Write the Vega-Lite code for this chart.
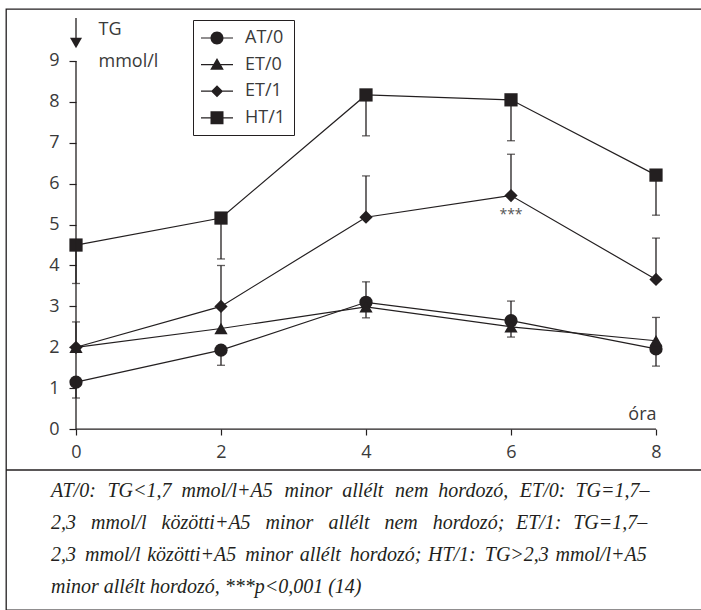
{
  "$schema": "https://vega.github.io/schema/vega-lite/v6.json",
  "width": 700,
  "height": 601,
  "padding": {"left": 5, "top": 9, "right": 0, "bottom": 0},
  "background": "white",
  "config": {
    "view": {"stroke": "#231f20", "strokeWidth": 1.3},
    "axis": {
      "labelFont": "Open Sans", "labelFontSize": 18, "labelColor": "#3a3a3a",
      "titleFont": "Open Sans", "titleFontSize": 18, "titleFontWeight": "normal", "titleColor": "#3a3a3a",
      "tickColor": "#231f20", "tickWidth": 1.2, "grid": false, "domain": false
    }
  },
  "title": {
    "text": [
      "AT/0: \u2004TG<1,7 \u2005mmol/l+A5 \u2004minor \u2005allélt \u2004nem \u2005hordozó, \u2004ET/0: \u2005TG=1,7–",
      "2,3 \u2002mmol/l \u2002közötti+A5 \u2002minor \u2002allélt \u2002nem \u2002hordozó; \u2005\u200aET/1: \u2005\u200aTG=1,7–",
      "2,3 \u2009mmol/l \u200aközötti+A5 \u2009minor \u200aallélt \u2009hordozó; \u200aHT/1: \u2009TG>2,3 \u200ammol/l+A5",
      "minor allélt hordozó, ***p<0,001 (14)"
    ],
    "orient": "bottom", "anchor": "start", "frame": "group", "offset": -129, "dx": 45,
    "baseline": "top", "font": "Liberation Serif", "fontStyle": "italic", "fontWeight": "normal",
    "fontSize": 20, "lineHeight": 32, "color": "#231f20"
  },
  "data": {"values": [
    {"series": "AT/0", "x": 0, "y": 1.15, "err": 0.76},
    {"series": "AT/0", "x": 2, "y": 1.93, "err": 1.56},
    {"series": "AT/0", "x": 4, "y": 3.1, "err": 3.6},
    {"series": "AT/0", "x": 6, "y": 2.65, "err": 3.13},
    {"series": "AT/0", "x": 8, "y": 1.96, "err": 1.54},
    {"series": "ET/0", "x": 0, "y": 2.0, "err": null},
    {"series": "ET/0", "x": 2, "y": 2.46, "err": 2.95},
    {"series": "ET/0", "x": 4, "y": 2.99, "err": 2.72},
    {"series": "ET/0", "x": 6, "y": 2.5, "err": 2.25},
    {"series": "ET/0", "x": 8, "y": 2.16, "err": 2.73},
    {"series": "ET/1", "x": 0, "y": 2.0, "err": 2.62},
    {"series": "ET/1", "x": 2, "y": 3.0, "err": 4.0},
    {"series": "ET/1", "x": 4, "y": 5.18, "err": 6.19},
    {"series": "ET/1", "x": 6, "y": 5.71, "err": 6.72, "sig": "***"},
    {"series": "ET/1", "x": 8, "y": 3.66, "err": 4.67},
    {"series": "HT/1", "x": 0, "y": 4.5, "err": 3.56},
    {"series": "HT/1", "x": 2, "y": 5.16, "err": 4.16},
    {"series": "HT/1", "x": 4, "y": 8.17, "err": 7.17},
    {"series": "HT/1", "x": 6, "y": 8.05, "err": 7.05},
    {"series": "HT/1", "x": 8, "y": 6.21, "err": 5.23}
  ]},
  "layer": [
    {
      "mark": {"type": "line", "color": "#231f20", "strokeWidth": 1.2},
      "encoding": {
        "x": {"field": "x", "type": "quantitative",
          "scale": {"domain": [-0.9655, 8.6897], "nice": false, "zero": false},
          "axis": {"values": [0, 2, 4, 6, 8], "format": "d", "offset": -181, "tickSize": 6, "labelPadding": 8,
            "title": "óra", "titleX": 650, "titleY": -15, "titleAlign": "right", "titleBaseline": "middle"}},
        "y": {"field": "y", "type": "quantitative",
          "scale": {"domain": [-4.423, 10.271], "nice": false, "zero": false},
          "axis": {"values": [0, 1, 2, 3, 4, 5, 6, 7, 8, 9], "format": "d", "offset": -70, "tickSize": 7, "labelPadding": 10,
            "title": ["TG", "mmol/l"], "titleAngle": 0, "titleX": 22, "titleY": 11, "titleAlign": "left",
            "titleBaseline": "top", "titleLineHeight": 32}},
        "detail": {"field": "series"}
      }
    },
    {
      "transform": [{"filter": "datum.err != null"}],
      "mark": {"type": "rule", "color": "#231f20", "strokeWidth": 1.3},
      "encoding": {
        "x": {"field": "x", "type": "quantitative"},
        "y": {"field": "y", "type": "quantitative"},
        "y2": {"field": "err"}
      }
    },
    {
      "transform": [{"filter": "datum.err != null"}],
      "mark": {"type": "tick", "orient": "horizontal", "color": "#231f20", "size": 8, "thickness": 1.3},
      "encoding": {
        "x": {"field": "x", "type": "quantitative"},
        "y": {"field": "err", "type": "quantitative"}
      }
    },
    {
      "mark": {"type": "point", "filled": true, "color": "#231f20", "opacity": 1, "size": 175},
      "encoding": {
        "x": {"field": "x", "type": "quantitative"},
        "y": {"field": "y", "type": "quantitative"},
        "shape": {"field": "series", "type": "nominal", "legend": null,
          "scale": {"domain": ["AT/0", "ET/0", "ET/1", "HT/1"], "range": ["circle", "triangle-up", "diamond", "square"]}}
      }
    },
    {
      "mark": {"type": "point", "filled": true, "color": "#231f20", "opacity": 0},
      "encoding": {
        "x": {"field": "x", "type": "quantitative"},
        "y": {"field": "y", "type": "quantitative"},
        "shape": {"field": "series", "type": "nominal",
          "scale": {"domain": ["AT/0", "ET/0", "ET/1", "HT/1"],
            "range": [
              "M-1.6,-0.06H-0.3V0.06H-1.6ZM0.3,-0.06H1.6V0.06H0.3ZM0.65,0A0.65,0.65,0,1,1,-0.65,0A0.65,0.65,0,1,1,0.65,0Z",
              "M-1.6,-0.06H-0.3V0.06H-1.6ZM0.3,-0.06H1.6V0.06H0.3ZM0,-0.66L0.68,0.52L-0.68,0.52Z",
              "M-1.6,-0.06H-0.3V0.06H-1.6ZM0.3,-0.06H1.6V0.06H0.3ZM0,-0.6L0.6,0L0,0.6L-0.6,0Z",
              "M-1.6,-0.06H-0.3V0.06H-1.6ZM0.3,-0.06H1.6V0.06H0.3ZM-0.65,-0.65H0.65V0.65H-0.65Z"
            ]},
          "legend": {"orient": "none", "legendX": 187, "legendY": 11, "title": null, "padding": 8,
            "strokeColor": "#231f20", "symbolSize": 400, "symbolOffset": 6, "symbolFillColor": "#231f20",
            "symbolStrokeColor": "#231f20", "symbolStrokeWidth": 0, "symbolOpacity": 1,
            "labelFont": "Open Sans", "labelFontSize": 18, "labelColor": "#3a3a3a", "labelOffset": 18,
            "rowPadding": 7.6}}
      }
    },
    {
      "transform": [{"filter": "datum.sig != null"}],
      "mark": {"type": "text", "color": "#555555", "fontSize": 14, "font": "Open Sans", "dy": 19, "baseline": "middle"},
      "encoding": {
        "x": {"field": "x", "type": "quantitative"},
        "y": {"field": "y", "type": "quantitative"},
        "text": {"field": "sig"}
      }
    },
    {
      "data": {"values": [{}]},
      "layer": [
        {"mark": {"type": "rule", "color": "#231f20", "strokeWidth": 1.3},
          "encoding": {"y": {"datum": -1.0, "type": "quantitative"}}},
        {"mark": {"type": "rule", "color": "#231f20", "strokeWidth": 1.3},
          "encoding": {"x": {"datum": 0, "type": "quantitative"}, "y": {"datum": 0, "type": "quantitative"}, "y2": {"datum": 9}}},
        {"mark": {"type": "rule", "color": "#231f20", "strokeWidth": 1.3},
          "encoding": {"y": {"datum": 0, "type": "quantitative"}, "x": {"datum": 0, "type": "quantitative"}, "x2": {"datum": 8}}},
        {"mark": {"type": "rule", "color": "#231f20", "strokeWidth": 1.3},
          "encoding": {"x": {"datum": 0, "type": "quantitative"}, "y": {"datum": 9.51, "type": "quantitative"}, "y2": {"datum": 10.05}}},
        {"mark": {"type": "point", "shape": "triangle-down", "filled": true, "color": "#231f20", "opacity": 1, "size": 144},
          "encoding": {"x": {"datum": 0, "type": "quantitative"}, "y": {"datum": 9.44, "type": "quantitative"}}}
      ]
    }
  ],
  "resolve": {"scale": {"shape": "independent"}}
}
